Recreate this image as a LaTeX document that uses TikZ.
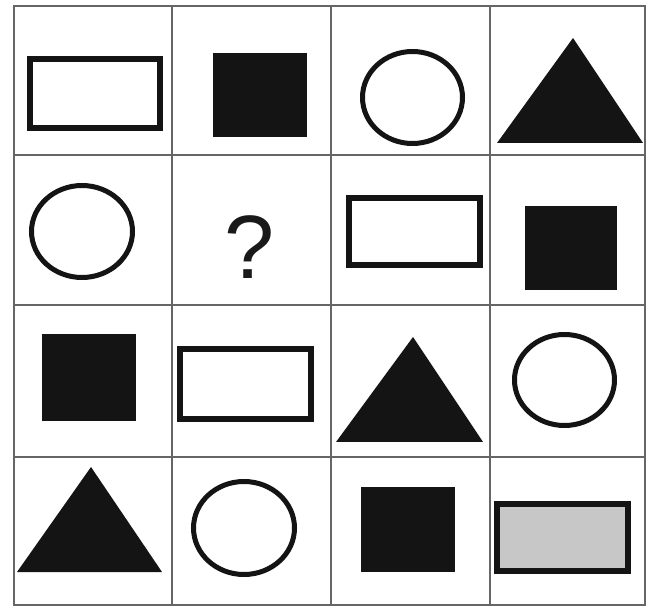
\documentclass[tikz,border=0pt]{standalone}
\usepackage{fontspec}
\setmainfont{Liberation Sans}
\begin{document}
\begin{tikzpicture}[x=1pt,y=-1pt,
  gridline/.style={draw=black!60,line width=1.4pt},
  solidshape/.style={fill=black!92,draw=none},
  outline/.style={draw=black!92,line width=5.5pt,fill=white},
  ring/.style={draw=black!92,line width=5pt,fill=none},
  qmark/.style={inner sep=0pt,font=\fontsize{90}{90}\selectfont,text=black!90}]
\useasboundingbox[fill=white] (0,0) rectangle (646,612);
% grid
\draw[gridline] (14,6) rectangle (645,605);
\draw[gridline] (14,155) -- (645,155);
\draw[gridline] (14,305) -- (645,305);
\draw[gridline] (14,457) -- (645,457);
\draw[gridline] (172,6) -- (172,605);
\draw[gridline] (331,6) -- (331,605);
\draw[gridline] (490,6) -- (490,605);
% row 1
\draw[outline] (30,59) rectangle (160,128);
\fill[solidshape] (213,53) rectangle (307,137);
\draw[ring] (412.5,97.5) ellipse [x radius=50, y radius=46];
\fill[solidshape] (573,38) -- (643,143) -- (497,143) -- cycle;
% row 2
\draw[ring] (82,231.5) ellipse [x radius=50.5, y radius=46];
\node[qmark] (q) at (250,247) {?};
\draw[outline] (349,198) rectangle (480,265);
\fill[solidshape] (525,206) rectangle (617,290);
% row 3
\fill[solidshape] (42,334) rectangle (136,421);
\draw[outline] (180,349) rectangle (311,419);
\fill[solidshape] (413,337) -- (483,442) -- (336,442) -- cycle;
\draw[ring] (564.5,380) ellipse [x radius=50, y radius=45.5];
% row 4
\fill[solidshape] (91,467) -- (162,572) -- (17,572) -- cycle;
\draw[ring] (244,528) ellipse [x radius=50.5, y radius=46.5];
\fill[solidshape] (361,487) rectangle (455,572);
\draw[outline,fill=black!22] (497,504) rectangle (628,571);
\end{tikzpicture}
\end{document}
